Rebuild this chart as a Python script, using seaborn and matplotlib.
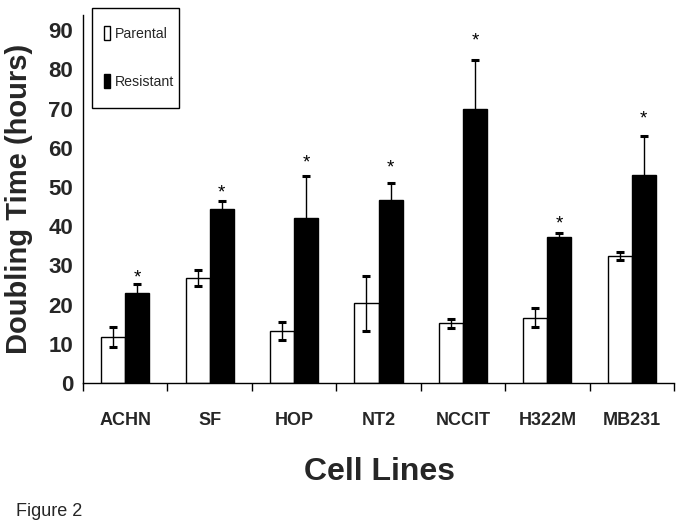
import matplotlib
matplotlib.use("Agg")
import matplotlib.pyplot as plt
from matplotlib.patches import Patch, Rectangle
from matplotlib.ticker import FixedLocator
import seaborn as sns
import pandas as pd

cells = ["ACHN", "SF", "HOP", "NT2", "NCCIT", "H322M", "MB231"]
parental = [11.7, 26.8, 13.3, 20.3, 15.2, 16.7, 32.3]
parental_err = [2.5, 2.1, 2.3, 7.0, 1.2, 2.5, 1.0]
resistant = [23.0, 44.4, 42.1, 46.7, 69.9, 37.2, 53.1]
resistant_err = [2.3, 2.0, 10.7, 4.3, 12.5, 1.1, 9.9]
sig_y = [28.3, 50.0, 57.7, 56.4, 88.8, 42.0, 68.9]
groups = ["Parental", "Resistant"]
y_ticks = [0, 10, 20, 30, 40, 50, 60, 70, 80, 90]

sns.set_theme(style="white")
plt.rcParams["font.family"] = ["Liberation Sans", "DejaVu Sans"]

df = pd.DataFrame({
    "Cell": cells * 2,
    "Group": [groups[0]] * len(cells) + [groups[1]] * len(cells),
    "Time": parental + resistant,
})

fig = plt.figure(figsize=(6.83, 5.26), dpi=100)
ax = fig.add_axes([83 / 683, 1 - 383 / 526, 591 / 683, 368 / 526])

sns.barplot(data=df, x="Cell", y="Time", hue="Group", order=cells,
            hue_order=groups, palette={"Parental": "white", "Resistant": "black"},
            width=0.57, gap=0, errorbar=None, edgecolor="black", linewidth=1,
            legend=False, ax=ax)

bar_conts = list(ax.containers)[:2]
errs = [parental_err, resistant_err]
means = [parental, resistant]
for ci, cont in enumerate(bar_conts):
    xs = [b.get_x() + b.get_width() / 2 for b in cont]
    ax.errorbar(xs, means[ci], yerr=errs[ci], fmt="none", ecolor="black",
                elinewidth=1, capsize=3.2, capthick=2.2, zorder=5)
    if ci == 1:
        for x, s in zip(xs, sig_y):
            ax.text(x, s - 2.6, "*", ha="center", va="baseline", fontsize=13.5,
                    color="black")

ax.set_xlim(-0.5, len(cells) - 0.5)
ax.set_ylim(0, 93.9)
ax.set_yticks(y_ticks)
ax.set_yticklabels([str(t) for t in y_ticks], fontsize=16, fontweight="bold")
ax.tick_params(axis="y", length=0, pad=7)

ax.set_xticks(range(len(cells)))
ax.set_xticklabels(cells, fontsize=13, fontweight="bold")
ax.xaxis.set_minor_locator(FixedLocator([i - 0.5 for i in range(len(cells) + 1)]))
ax.tick_params(axis="x", which="major", length=0, pad=21)
ax.tick_params(axis="x", which="minor", length=5.5, width=1, color="black",
               direction="out", bottom=True)

for side in ["top", "right"]:
    ax.spines[side].set_visible(False)
for side in ["left", "bottom"]:
    ax.spines[side].set_color("black")
    ax.spines[side].set_linewidth(1)

ax.set_ylabel("Doubling Time (hours)", fontsize=21, fontweight="bold")
ax.yaxis.set_label_coords(-0.0846, 0.5)
ax.set_xlabel("Cell Lines", fontsize=23, fontweight="bold")
ax.xaxis.set_label_coords(0.5025, -0.242)
ax.xaxis.label.set_va("center")

# legend frame box
fig.add_artist(Rectangle((92 / 683, 1 - 108 / 526), 87 / 683, 100 / 526,
                         transform=fig.transFigure, facecolor="white",
                         edgecolor="black", linewidth=1, zorder=3))
handles = [Patch(facecolor="white", edgecolor="black", linewidth=1),
           Patch(facecolor="black", edgecolor="black", linewidth=1)]
leg = fig.legend(handles, groups, loc="upper left",
                 bbox_to_anchor=(104 / 683, 1 - 26 / 526), borderaxespad=0,
                 prop={"size": 10.2}, frameon=False, borderpad=0,
                 labelspacing=2.35, handlelength=0.42, handleheight=1.15,
                 handletextpad=0.35)
leg.set_zorder(4)

fig.text(16 / 683, 1 - 511 / 526, "Figure 2", fontsize=13, va="center", ha="left")

fig.savefig("out.png", dpi=100)
